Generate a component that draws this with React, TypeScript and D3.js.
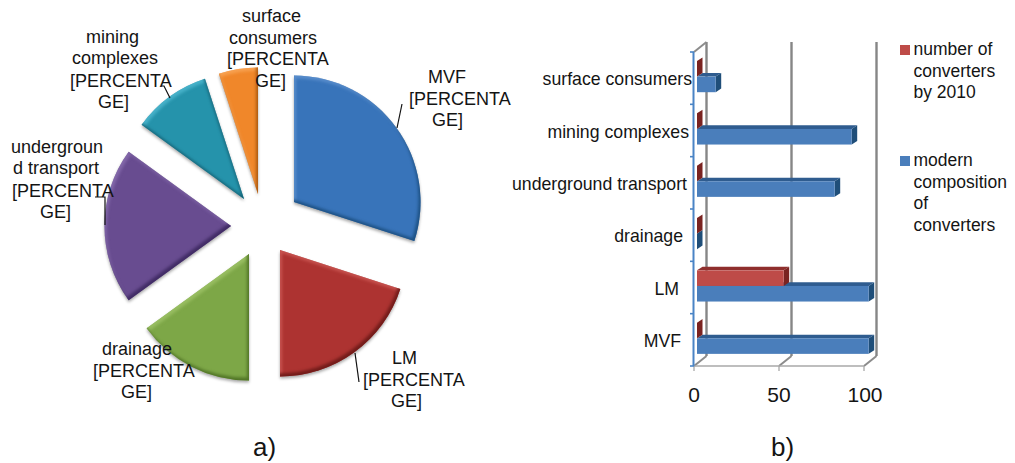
import React from "react";
import * as d3 from "d3";

// Pie: share of each consumer group, clockwise from twelve o'clock.
const pieCategories = ["MVF", "LM", "drainage", "underground transport", "mining complexes", "surface consumers"];
const pieShares = [30, 20, 15, 20, 10, 5];
const pieColors = ["#3874ba", "#ad3331", "#7da747", "#684c90", "#2593ab", "#f0872a"];
const pieDark = ["#1b4f80", "#6f1a18", "#4f7325", "#3f2a63", "#135f72", "#a8570f"];
const pieLight = ["#6f9fd8", "#dc6a66", "#a9cc72", "#957abb", "#5cc4dc", "#fbb068"];

// How far each slice is pulled out of the pie.
const sliceShiftX = [29, 15, -16, -34, -21, -7];
const sliceShiftY = [-22, 26, 30, 2, -25, -30];

// Label text for each pie slice, one list of lines per slice.
const pieLabelLines = [
  ["MVF", "[PERCENTA", "GE]"],
  ["LM", "[PERCENTA", "GE]"],
  ["drainage", "[PERCENTA", "GE]"],
  ["undergroun", "d transport", "[PERCENTA", "GE]"],
  ["mining", "complexes", "[PERCENTA", "GE]"],
  ["surface", "consumers", "[PERCENTA", "GE]"],
];
const pieLabelX = [
  [428, 409, 432],
  [392, 363, 391],
  [102, 93, 121],
  [11, 13, 12, 40],
  [86, 72, 70, 98],
  [242, 229, 227, 255],
];
const pieLabelY = [
  [83, 105, 126],
  [364, 386, 407],
  [355, 377, 398],
  [153, 174, 197, 218],
  [43, 64, 87, 108],
  [22, 44, 65, 87],
];
const leaderLines: [number, number][][] = [
  [[402, 104], [397, 128]],
  [[355, 353], [359, 382]],
  [[95, 197], [105, 197], [105, 225]],
  [[161, 86], [164, 86], [170, 98]],
];

// Bars: listed from the bottom of the chart upwards.
const barCategories = ["MVF", "LM", "drainage", "underground transport", "mining complexes", "surface consumers"];
const barLabelRight = [681, 679, 683, 687, 689, 692];
const convertersBy2010 = [0, 51, 0, 0, 0, 0];
const modernComposition = [101, 101, 0, 81, 91, 11];
const xTicks = [0, 50, 100];
const legendItems = [
  { color: "#be4b48", baseline: 55, lines: ["number of", "converters", "by 2010"] },
  { color: "#4a7ebb", baseline: 166, lines: ["modern", "composition", "of", "converters"] },
];

const FONT = "'Liberation Sans', Arial, sans-serif";
const TEXT = "#141414";

const pieCx = 265;
const pieCy = 224;
const pieR = 126.5;

const plotLeft = 694;
const plotRight = 864;
const plotTop = 52;
const plotBottom = 366;
const wallDx = 12.5;
const wallDy = -10;
const barDx = 3;
const faceDx = 5.5;
const faceDy = -3.6;

function BarPrism({ x0, x1, y0, y1, front, top, side }: {
  x0: number; x1: number; y0: number; y1: number; front: string; top: string; side: string;
}) {
  return (
    <g>
      <polygon points={`${x0},${y0} ${x0 + faceDx},${y0 + faceDy} ${x1 + faceDx},${y0 + faceDy} ${x1},${y0}`} fill={top} />
      <polygon points={`${x1},${y0} ${x1 + faceDx},${y0 + faceDy} ${x1 + faceDx},${y1 + faceDy} ${x1},${y1}`} fill={side} />
      {x1 > x0 && <rect x={x0} y={y0} width={x1 - x0} height={y1 - y0} fill={front} />}
    </g>
  );
}

export default function App() {
  const arcs = d3.pie<number>().sort(null)(pieShares);
  const arcGen = d3.arc<d3.PieArcDatum<number>>().innerRadius(0).outerRadius(pieR);

  const x = d3.scaleLinear().domain([0, 100]).range([plotLeft, plotRight]);
  const y = d3.scaleBand<string>().domain([...barCategories].reverse()).range([plotTop, plotBottom]);
  const innerH = 15.6;
  const innerTop = 9;

  return (
    <svg width={1015} height={463} style={{ position: "absolute", left: 0, top: 0, background: "#fff" }} fontFamily={FONT}>
      <defs>
        {pieColors.map((c, i) => (
          <filter key={i} id={`bevel${i}`} x="-15%" y="-15%" width="130%" height="130%" colorInterpolationFilters="sRGB">
            <feGaussianBlur in="SourceAlpha" stdDeviation="1.4" result="blurA" />
            <feOffset in="blurA" dx="-2.5" dy="-3" result="offDark" />
            <feComposite in="SourceAlpha" in2="offDark" operator="out" result="edgeDark" />
            <feFlood floodColor={pieDark[i]} floodOpacity="0.95" />
            <feComposite in2="edgeDark" operator="in" result="dark" />
            <feOffset in="blurA" dx="1.5" dy="2.5" result="offLight" />
            <feComposite in="SourceAlpha" in2="offLight" operator="out" result="edgeLight" />
            <feFlood floodColor={pieLight[i]} floodOpacity="0.6" />
            <feComposite in2="edgeLight" operator="in" result="light" />
            <feGaussianBlur in="SourceAlpha" stdDeviation="1.6" result="sh" />
            <feOffset in="sh" dx="0" dy="2" result="shOff" />
            <feFlood floodColor="#000" floodOpacity="0.35" />
            <feComposite in2="shOff" operator="in" result="shadow" />
            <feMerge>
              <feMergeNode in="shadow" />
              <feMergeNode in="SourceGraphic" />
              <feMergeNode in="light" />
              <feMergeNode in="dark" />
            </feMerge>
          </filter>
        ))}
      </defs>

      {/* exploded pie */}
      {arcs.map((a, i) => (
        <path
          key={pieCategories[i]}
          d={arcGen(a) ?? ""}
          transform={`translate(${pieCx + sliceShiftX[i]},${pieCy + sliceShiftY[i]})`}
          fill={pieColors[i]}
          filter={`url(#bevel${i})`}
        />
      ))}
      {leaderLines.map((pts, i) => (
        <path key={i} d={d3.line()(pts) ?? ""} fill="none" stroke="#111" strokeWidth={1.2} />
      ))}
      {pieLabelLines.map((lines, i) =>
        lines.map((t, j) => (
          <text key={`${i}-${j}`} x={pieLabelX[i][j]} y={pieLabelY[i][j]} fontSize={18} fill={TEXT}>{t}</text>
        ))
      )}
      <text x={253} y={456} fontSize={26} fill={TEXT}>a)</text>

      {/* back wall gridlines and floor */}
      {xTicks.map((t) => (
        <g key={t}>
          <line x1={x(t) + wallDx} x2={x(t) + wallDx} y1={plotTop + wallDy} y2={plotBottom + wallDy} stroke="#868686" strokeWidth={2.4} />
          <line x1={x(t)} x2={x(t) + wallDx} y1={plotBottom} y2={plotBottom + wallDy} stroke="#8c8c8c" strokeWidth={2} />
          <line x1={x(t)} x2={x(t)} y1={plotBottom} y2={plotBottom + 5} stroke="#a0a0a0" strokeWidth={1.2} />
        </g>
      ))}
      <line x1={plotLeft} x2={plotLeft + wallDx} y1={plotTop} y2={plotTop + wallDy} stroke="#8c8c8c" strokeWidth={2} />
      <line x1={plotLeft} x2={plotRight} y1={plotBottom} y2={plotBottom} stroke="#a8a8a8" strokeWidth={1.6} />

      {/* bars */}
      {barCategories.map((c, i) => {
        const top = (y(c) ?? 0) + innerTop;
        const x0 = x(0) + barDx;
        return (
          <g key={c}>
            <BarPrism x0={x0} x1={x(modernComposition[i]) + barDx} y0={top + innerH} y1={top + 2 * innerH}
              front="#4a7ebb" top="#2f5c8f" side="#1f4e79" />
            <BarPrism x0={x0} x1={x(convertersBy2010[i]) + barDx} y0={top} y1={top + innerH}
              front="#be4b48" top="#8f2f2d" side="#7a2321" />
          </g>
        );
      })}

      {/* category axis */}
      <line x1={plotLeft - 0.5} x2={plotLeft - 0.5} y1={plotTop} y2={plotBottom} stroke="#4a84c6" strokeWidth={2} />
      {d3.range(barCategories.length + 1).map((i) => {
        const yy = plotBottom - i * y.step();
        return <line key={i} x1={plotLeft - 4} x2={plotLeft} y1={yy} y2={yy} stroke="#4a84c6" strokeWidth={1.6} />;
      })}
      {barCategories.map((c, i) => (
        <text key={c} x={barLabelRight[i]} y={(y(c) ?? 0) + y.bandwidth() / 2 + 7} textAnchor="end" fontSize={17.7} fill={TEXT}>{c}</text>
      ))}

      {xTicks.map((t) => (
        <text key={t} x={x(t) + (t === 100 ? 1 : 0)} y={402} textAnchor="middle" fontSize={21} fill={TEXT}>{t}</text>
      ))}
      <text x={771} y={456} fontSize={26} fill={TEXT}>b)</text>

      {/* legend */}
      {legendItems.map((item) => (
        <g key={item.color}>
          <rect x={900} y={item.baseline - 10} width={10} height={10} fill={item.color} />
          {item.lines.map((t, j) => (
            <text key={t} x={913.5} y={item.baseline + j * 21.6} fontSize={17.5} fill={TEXT}>{t}</text>
          ))}
        </g>
      ))}
    </svg>
  );
}
